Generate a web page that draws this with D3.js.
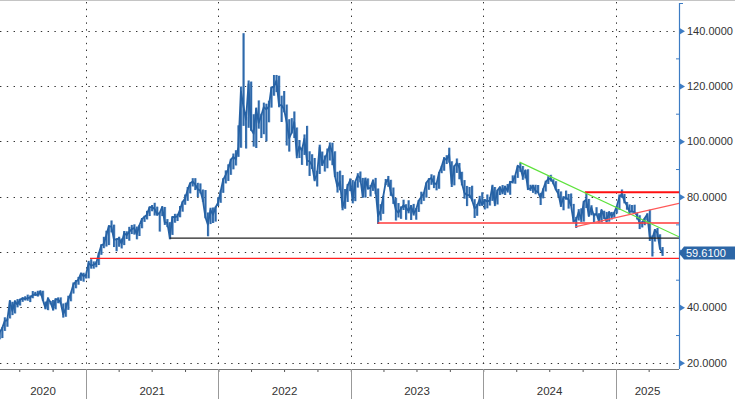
<!DOCTYPE html>
<html>
<head>
<meta charset="utf-8">
<script src="https://cdn.jsdelivr.net/npm/d3@7"></script>
<style>
  body { margin: 0; background: #fff; }
  text { font-family: "Liberation Sans", Arial, sans-serif; }
</style>
</head>
<body>
<svg width="735" height="399"></svg>
<script>
// weekly bars (Friday), first week of each block below
const weekStarts = ["2020-05-01", "2021-01-01", "2022-01-07", "2023-01-06", "2024-01-05", "2025-01-03"];

const close2020 = [26.4,31.0,32.5,35.1,35.3,42.3,38.7,42.2,41.0,42.8,43.2,43.1,43.3,43.5,44.4,44.8,44.4,45.8,42.7,39.8,43.2,41.9,39.3,42.9,42.9,41.8,37.5,39.5,42.8,45.0,48.2,49.3,50.0,52.3,51.3];
const high2020  = [27.0,31.5,32.9,36.4,36.0,42.5,42.0,42.5,43.0,43.1,43.7,44.0,44.6,44.3,45.9,45.6,46.0,46.1,46.0,42.1,43.6,42.3,42.7,43.3,43.6,43.6,41.4,41.7,44.2,45.2,49.0,49.9,51.0,52.5,52.5];
const low2020   = [21.0,28.5,28.9,31.5,33.0,36.0,37.2,37.8,40.0,40.7,42.0,42.5,42.4,41.9,43.3,44.1,43.9,44.3,42.3,39.3,39.0,41.1,38.9,39.3,41.5,41.3,36.3,36.6,39.1,42.2,45.0,46.9,48.2,49.6,49.3];

const close2021 = [51.8,56.0,55.1,55.4,55.9, 59.3,62.4,62.9,66.1, 69.4,69.2,64.5,64.6, 64.9,63.0,66.8,66.1,67.3, 68.3,68.7,66.4,69.6, 71.9,72.7,73.5,76.2, 76.2,75.6,73.6,74.1,76.3, 70.7,70.6,65.2,72.7, 72.6,72.9,75.3,78.1, 79.3,82.4,84.9,85.5,84.4, 82.7,82.2,78.9,72.7, 69.9,75.2,73.5,76.1,77.8];
const high2021  = [51.9,56.8,57.4,56.6,56.6, 59.8,62.8,65.5,67.7, 69.6,71.4,69.9,65.0, 65.5,64.9,67.6,67.5,69.1, 69.8,70.0,69.2,69.8, 72.3,73.1,74.9,76.4, 77.0,77.8,76.4,74.5,76.5, 76.3,71.9,70.8,72.9, 73.8,73.8,76.6,78.3, 80.8,83.5,85.1,86.7,86.7, 85.0,84.8,82.6,82.4, 74.3,76.0,76.1,76.4,79.7];
const low2021   = [50.4,50.5,54.0,54.0,54.5, 55.3,59.0,61.4,62.0, 62.5,67.1,61.8,60.3, 61.9,61.3,62.5,64.7,64.1, 66.5,66.3,64.6,65.8, 68.6,70.9,71.8,73.0, 74.7,73.2,73.1,67.4,73.0, 69.8,69.0,64.6,66.2, 70.6,71.2,72.6,74.6, 77.1,78.5,81.2,83.7,82.4, 79.9,81.2,78.2,72.2, 65.7,70.1,70.5,71.0,76.6];

const close2022 = [81.8,86.1,87.9,90.0, 93.3,94.4,93.5,97.9, 118.1,112.7,107.9,120.7, 104.4,102.8,111.7,106.7,109.3, 112.4,111.6,112.6,119.4, 119.7,122.0,113.1,113.1, 111.6,107.0,101.2,103.2,107.0, 94.9,98.2,96.7,101.0, 93.0,92.8,91.4,86.2,88.0, 97.9,91.6,93.5,95.8, 98.6,96.0,87.6,83.6, 85.6,76.1,79.0,83.9,85.9];
const high2022  = [82.3,86.7,89.5,91.7, 93.7,95.6,96.8,105.8, 119.8,139.1,108.9,122.0, 121.6,109.8,112.2,114.8,110.0, 114.0,113.6,114.7,119.8, 124.0,124.0,123.7,116.5, 118.2,113.3,108.0,108.4,110.8, 105.0,100.5,97.7,102.5, 105.6,96.4,95.3,94.0,89.4, 98.8,96.3,94.9,97.4, 99.6,99.5,96.4,89.0, 89.4,87.8,82.8,84.6,86.6];
const low2022   = [77.8,81.4,84.8,85.7, 87.9,89.9,91.3,94.4, 97.7,105.6,97.4,104.9, 103.8,98.1,97.6,104.6,101.2, 102.6,100.0,106.9,112.2, 116.5,117.8,112.3,107.0, 110.5,98.5,96.3,102.9,101.2, 93.9,94.0,91.5,95.1, 91.2,87.5,90.0,85.6,83.7, 88.2,91.1,89.1,90.3, 93.1,91.4,87.1,81.5, 82.3,75.1,75.6,78.1,82.0];

const close2023 = [78.6,85.3,87.6,86.7, 79.9,86.4,83.0,83.2, 85.8,82.8,73.0,75.0,79.8, 85.1,86.3,81.7,79.5, 75.3,74.2,75.6,76.9, 76.1,74.8,76.6,73.9,75.4, 78.5,79.9,81.1,85.0, 86.2,86.8,84.8,84.5, 88.6,90.7,93.9,93.3,95.3, 84.6,90.9,92.2,90.5, 84.9,81.4,80.6,80.6, 78.9,75.8,76.6,79.1,77.0];
const high2023  = [86.0,85.4,88.5,89.1, 86.8,86.9,86.6,84.2, 86.2,86.8,83.0,77.3,80.3, 86.4,87.5,86.1,83.3, 79.6,77.7,76.5,78.9, 77.3,78.7,77.0,77.4,75.9, 78.8,81.8,81.6,85.1, 86.7,88.1,87.7,85.2, 88.8,91.2,94.3,95.0,97.7, 92.8,91.3,93.8,92.2, 89.0,86.0,83.9,83.5, 84.0,79.1,77.4,80.3,81.6];
const low2023   = [77.6,78.4,83.3,85.2, 79.7,79.7,82.6,80.1, 82.1,80.9,70.1,71.4,73.8, 84.2,83.6,80.3,77.4, 71.4,72.5,72.0,75.2, 71.7,74.0,71.6,73.2,71.7, 74.5,77.3,78.5,79.7, 82.5,84.3,83.1,82.3, 82.9,88.5,89.4,91.8,92.3, 83.5,84.1,88.6,86.3, 84.1,79.3,76.6,79.6, 78.4,72.3,73.1,76.6,76.8];

const close2024 = [78.8,78.3,78.6,83.6, 77.3,82.2,83.5,81.6, 83.6,82.1,85.3,85.4,87.5, 91.2,90.5,87.3,89.5, 83.0,82.8,84.0,82.1,81.6, 79.6,82.6,85.2,86.4, 86.5,85.0,82.6,81.1, 76.8,79.7,79.7,79.0,76.9, 71.1,71.6,74.5,72.0, 78.1,79.0,73.1,76.1, 73.1,73.9,71.0,75.2,72.9, 71.1,74.5,72.9,74.2];
const high2024  = [79.1,80.8,79.9,84.3, 83.5,82.5,83.6,84.2, 84.0,84.6,85.7,87.7,87.6, 91.2,92.2,91.1,89.7, 89.9,84.3,84.3,84.3,84.2, 81.4,83.0,85.8,87.4, 87.9,86.3,85.6,82.8, 81.9,80.2,82.2,81.0,81.2, 77.4,72.7,75.5,75.8, 78.5,81.2,79.2,76.9, 74.0,76.2,74.0,75.3,74.9, 74.5,74.6,74.5,74.5];
const low2024   = [75.4,75.8,76.8,78.5, 76.6,77.2,80.6,80.9, 80.6,81.5,80.7,84.8,84.7, 86.8,89.0,86.1,86.6, 82.4,82.1,81.4,80.9,81.3, 77.0,79.4,81.9,84.6, 85.5,84.5,82.5,79.9, 76.3,75.1,78.9,75.7,76.7, 70.8,68.7,71.4,70.9, 71.0,75.9,72.8,73.3, 70.8,73.3,70.8,70.8,71.9, 70.9,71.0,71.8,72.4];

const close2025 = [76.5,79.8,81.0,78.5,76.8, 74.7,74.7,74.4,73.2, 70.4,70.6,72.2,73.6, 65.6,64.8,68.0,66.9, 61.3,59.61];
const high2025  = [76.6,80.8,82.6,81.0,78.1, 77.2,77.0,77.1,74.3, 73.3,71.1,72.3,74.0, 75.3,66.0,68.3,68.7, 66.4,61.8];
const low2025   = [73.9,75.3,79.6,77.6,75.3, 73.9,74.3,74.0,71.8, 68.3,68.9,69.7,71.4, 64.0,58.4,63.8,65.3, 60.9,58.6];

const lastPrice = 59.61;

// horizontal support / resistance levels
const levelValues = [57.7, 65.0, 70.5, 81.6];
const levelStarts = ["2021-01-12", "2021-08-20", "2023-03-16", "2024-10-07"];
// trend lines, end values are at the right axis
const trendStarts = ["2024-04-10", "2024-09-10"];
const trendStartValues = [92.5, 69.1];
const trendEndValues = [65.5, 77.6];

const yTicks = [20, 40, 60, 80, 100, 120, 140];
const yMinorTicks = [30, 50, 70, 90, 110, 130];
const years = [2020, 2021, 2022, 2023, 2024, 2025];

const levelColors = ["#ff2020", "#222222", "#ff3a3a", "#ff1010"];
const levelWidths = [1.3, 1.3, 1.3, 2];
const trendColors = ["#5ee23c", "#ff5858"];

const svg = d3.select("svg");
const parse = d3.timeParse("%Y-%m-%d");
const plotRight = 679, plotBottom = 369;

const closes = [close2020, close2021, close2022, close2023, close2024, close2025];
const highs = [high2020, high2021, high2022, high2023, high2024, high2025];
const lows = [low2020, low2021, low2022, low2023, low2024, low2025];

const bars = [];
weekStarts.forEach((s, k) => {
  const d0 = parse(s);
  closes[k].forEach((c, i) => {
    bars.push({ date: d3.timeDay.offset(d0, 7 * i), close: c, high: highs[k][i], low: lows[k][i] });
  });
});

const x = d3.scaleTime()
  .domain([parse("2021-01-01"), parse("2025-01-01")])
  .range([86, 616]);
const y = d3.scaleLinear().domain([20, 140]).range([362.7, 30.7]);

svg.append("defs").append("clipPath").attr("id", "plot")
  .append("rect").attr("x", 0).attr("y", 0).attr("width", plotRight).attr("height", plotBottom);

// top frame strip
svg.append("line").attr("x1", 0).attr("x2", 735).attr("y1", 0.5).attr("y2", 0.5)
  .attr("stroke", "#c4c4c4");

// dotted grid
const grid = svg.append("g").attr("stroke", "#333").attr("stroke-dasharray", "1.4,5.4");
grid.selectAll(".hg").data(yTicks).enter().append("line")
  .attr("x1", 0).attr("x2", plotRight - 2)
  .attr("y1", d => Math.round(y(d)) + 0.5).attr("y2", d => Math.round(y(d)) + 0.5);
const yearBounds = years.slice(1).map(yr => new Date(yr, 0, 1));
grid.selectAll(".vg").data(yearBounds).enter().append("line")
  .attr("x1", d => Math.round(x(d)) + 0.5).attr("x2", d => Math.round(x(d)) + 0.5)
  .attr("y1", 2).attr("y2", plotBottom);

// price bars: light edge, dark range, dark close line
const plot = svg.append("g").attr("clip-path", "url(#plot)");
plot.selectAll(".edge").data(bars).enter().append("line")
  .attr("x1", d => x(d.date) + 0.9).attr("x2", d => x(d.date) + 0.9)
  .attr("y1", d => y(d.high)).attr("y2", d => y(d.low))
  .attr("stroke", "#9cbde2").attr("stroke-width", 1.2);
plot.selectAll(".bar").data(bars).enter().append("line")
  .attr("x1", d => x(d.date)).attr("x2", d => x(d.date))
  .attr("y1", d => y(d.high)).attr("y2", d => y(d.low))
  .attr("stroke", "#2f69aa").attr("stroke-width", 1.9);
plot.append("path").datum(bars)
  .attr("fill", "none").attr("stroke", "#2662a5").attr("stroke-width", 1.8)
  .attr("stroke-linejoin", "round")
  .attr("d", d3.line().x(d => x(d.date)).y(d => y(d.close)));

// levels and trend lines
const endDate = x.invert(plotRight);
const ann = svg.append("g").attr("clip-path", "url(#plot)");
ann.selectAll(".lvl").data(levelValues).enter().append("line")
  .attr("x1", (d, i) => x(parse(levelStarts[i]))).attr("x2", plotRight)
  .attr("y1", d => y(d)).attr("y2", d => y(d))
  .attr("stroke", (d, i) => levelColors[i]).attr("stroke-width", (d, i) => levelWidths[i]);
ann.selectAll(".trend").data(trendStarts).enter().append("line")
  .attr("x1", d => x(parse(d))).attr("x2", x(endDate))
  .attr("y1", (d, i) => y(trendStartValues[i])).attr("y2", (d, i) => y(trendEndValues[i]))
  .attr("stroke", (d, i) => trendColors[i]).attr("stroke-width", 1.2);

// bottom axis: quarter ticks
const xAxis = d3.axisBottom(x)
  .tickValues(d3.timeMonth.every(3).range(new Date(2020, 3, 1), endDate))
  .tickSize(3).tickFormat("");
const gx = svg.append("g").attr("transform", `translate(0,${plotBottom})`).call(xAxis);
gx.select(".domain").remove();
gx.selectAll(".tick line").attr("stroke", "#555");
svg.append("line").attr("x1", 0).attr("x2", plotRight).attr("y1", plotBottom + 0.5).attr("y2", plotBottom + 0.5)
  .attr("stroke", "#777");
svg.selectAll(".ysep").data(yearBounds).enter().append("line")
  .attr("x1", d => Math.round(x(d)) + 0.5).attr("x2", d => Math.round(x(d)) + 0.5)
  .attr("y1", plotBottom).attr("y2", 399).attr("stroke", "#999");
svg.selectAll(".ylab").data(years).enter().append("text")
  .attr("x", d => {
    const a = Math.max(0, x(new Date(d, 0, 1)));
    const b = Math.min(plotRight, x(new Date(d + 1, 0, 1)));
    return (a + b) / 2;
  })
  .attr("y", 395).attr("text-anchor", "middle")
  .attr("font-size", "11.5px").attr("fill", "#333")
  .text(d => d);

// right axis
const axisColor = "#3d7cc4";
svg.append("line").attr("x1", plotRight + 0.5).attr("x2", plotRight + 0.5).attr("y1", 3).attr("y2", plotBottom)
  .attr("stroke", axisColor).attr("stroke-width", 1.2);
svg.append("line").attr("x1", plotRight).attr("x2", plotRight + 4).attr("y1", 3.5).attr("y2", 3.5)
  .attr("stroke", axisColor);
const yMinor = d3.axisLeft(y).tickValues(yMinorTicks).tickSize(3).tickFormat("");
const gm = svg.append("g").attr("transform", `translate(${plotRight},0)`).call(yMinor);
gm.select(".domain").remove();
gm.selectAll(".tick line").attr("stroke", axisColor);
const yAxis = d3.axisRight(y).tickValues(yTicks).tickSize(0).tickPadding(8)
  .tickFormat(d3.format(".4f"));
const gy = svg.append("g").attr("transform", `translate(${plotRight},0)`).call(yAxis);
gy.select(".domain").remove();
gy.selectAll(".tick text").attr("font-family", "Liberation Sans, Arial, sans-serif")
  .attr("font-size", "11px").attr("fill", "#333");
gy.selectAll(".tick").append("path")
  .attr("d", "M1,-3L6,0L1,3Z").attr("fill", axisColor);

// last price tag
const ly = y(lastPrice);
svg.append("path")
  .attr("d", `M${plotRight},${ly}L${plotRight + 5},${ly - 6.5}L735,${ly - 6.5}L735,${ly + 6.5}L${plotRight + 5},${ly + 6.5}Z`)
  .attr("fill", "#2c66a6");
svg.append("text").attr("x", plotRight + 7).attr("y", ly).attr("dy", "0.36em")
  .attr("font-size", "11px").attr("fill", "#fff").text(d3.format(".4f")(lastPrice));
</script>
</body>
</html>
